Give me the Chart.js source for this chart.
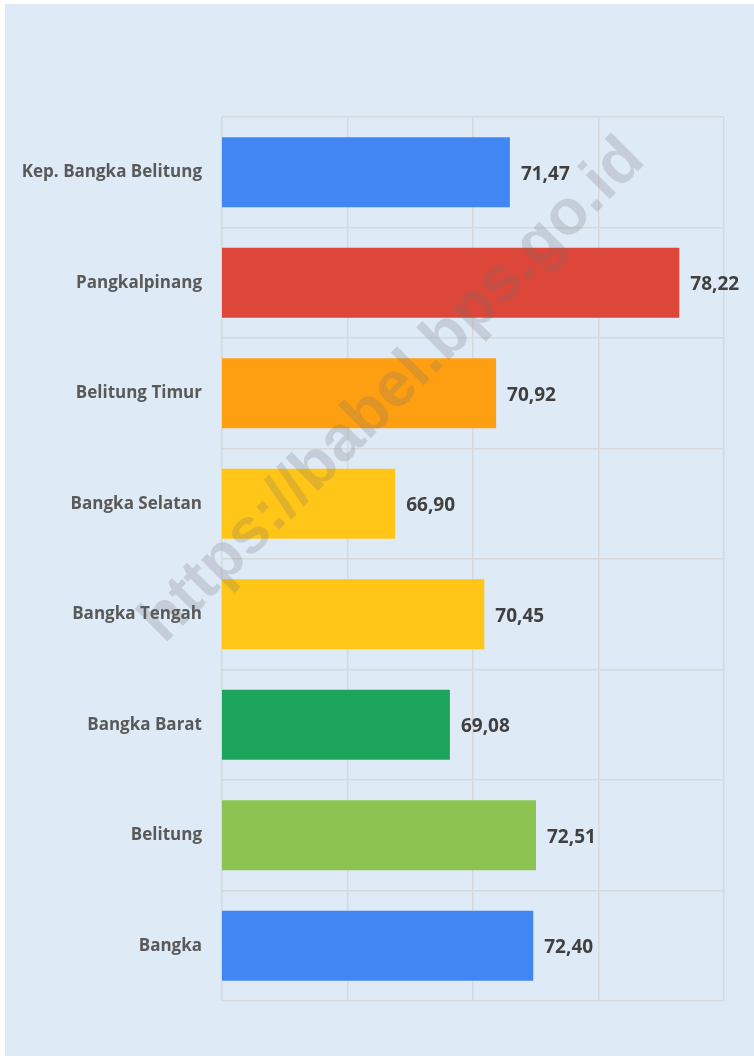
<!DOCTYPE html>
<html>
<head>
<meta charset="utf-8">
<script src="https://cdn.jsdelivr.net/npm/chart.js@4.4.1/dist/chart.umd.min.js"></script>
<style>
  html, body { margin: 0; padding: 0; background: #ffffff; }
  #wrap { position: absolute; left: 5px; top: 4px; width: 749px; height: 1052px; background: #deeaf6; }
  #box { position: absolute; left: 0; top: 0; width: 754px; height: 1058px; }
</style>
</head>
<body>
<div id="wrap"></div>
<div id="box"><canvas id="chart"></canvas></div>
<script>
const categories = [
  'Kep. Bangka Belitung', 'Pangkalpinang', 'Belitung Timur', 'Bangka Selatan',
  'Bangka Tengah', 'Bangka Barat', 'Belitung', 'Bangka'
];
const values = [71.47, 78.22, 70.92, 66.90, 70.45, 69.08, 72.51, 72.40];
const barColors = ['#4286f4', '#dc473a', '#fe9f12', '#ffc618', '#ffc618', '#1da55c', '#8dc451', '#4286f4'];
const axisMin = 60, axisMax = 80, axisStep = 5;
const watermark = 'https://babel.bps.go.id';

// value labels at the end of each bar, with decimal comma
const valueLabels = {
  id: 'valueLabels',
  afterDatasetsDraw(chart) {
    const ctx = chart.ctx;
    const meta = chart.getDatasetMeta(0);
    ctx.save();
    ctx.font = 'bold 19px "Open Sans", sans-serif';
    ctx.fillStyle = '#404040';
    ctx.textAlign = 'left';
    ctx.textBaseline = 'middle';
    meta.data.forEach((bar, i) => {
      ctx.fillText(values[i].toFixed(2).replace('.', ','), bar.x + 11, bar.y + 2);
    });
    ctx.restore();
  }
};

const watermarkPlugin = {
  id: 'watermark',
  afterDraw(chart) {
    const ctx = chart.ctx;
    ctx.save();
    ctx.translate(393, 391);
    ctx.rotate(-Math.PI / 4);
    ctx.font = 'bold 64px "Liberation Sans", Arial, sans-serif';
    ctx.fillStyle = 'rgba(110,110,110,0.22)';
    ctx.textAlign = 'center';
    ctx.textBaseline = 'middle';
    ctx.fillText(watermark, 0, 0);
    ctx.restore();
  }
};

new Chart(document.getElementById('chart'), {
  type: 'bar',
  data: {
    labels: categories,
    datasets: [{
      data: values,
      backgroundColor: barColors,
      borderWidth: 0,
      categoryPercentage: 1,
      barPercentage: 0.633,
    }],
  },
  options: {
    indexAxis: 'y',
    responsive: true,
    maintainAspectRatio: false,
    animation: false,
    layout: { padding: { top: 117, right: 30, bottom: 57, left: 0 } },
    plugins: { legend: { display: false }, tooltip: { enabled: false } },
    scales: {
      x: {
        min: axisMin,
        max: axisMax,
        ticks: { display: false, stepSize: axisStep },
        grid: { color: '#d6d9dc', lineWidth: 1.5, drawTicks: false },
        border: { display: false },
      },
      y: {
        afterFit(scale) { scale.width = 222; },
        ticks: {
          padding: 20,
          color: '#595959',
          font: { family: '"Open Sans", sans-serif', size: 17, weight: 'bold' },
        },
        grid: { offset: true, color: '#d6d9dc', lineWidth: 1.5, drawTicks: false },
        border: { display: false },
      },
    },
  },
  plugins: [valueLabels, watermarkPlugin],
});
</script>
</body>
</html>
